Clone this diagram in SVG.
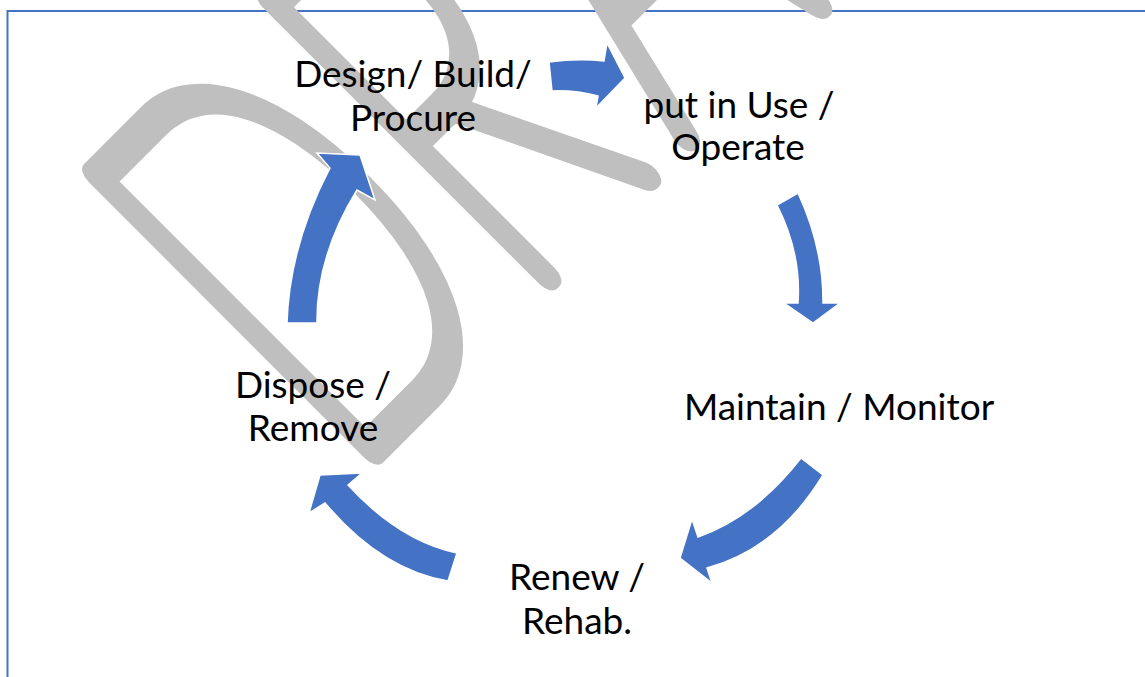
<svg xmlns="http://www.w3.org/2000/svg" width="1145" height="677" viewBox="0 0 1145 677">
  <style>
    .lbl { font-family: Lato, "Liberation Sans", sans-serif; font-size: 37px; fill: #000; text-anchor: middle; }
    .arrow { fill: #4472C4; stroke: #fff; stroke-width: 1.5; stroke-linejoin: miter; }
    .mark { font-family: Lato, "Liberation Sans", sans-serif; font-weight: 100; font-size: 558px; letter-spacing: 5px; fill: #BFBFBF; stroke: #BFBFBF; stroke-width: 32; stroke-linejoin: round; }
  </style>
  <rect width="1145" height="677" fill="#fff"/>

  <!-- page frame -->
  <rect x="7.5" y="11" width="1200" height="700" fill="none" stroke="#4472C4" stroke-width="2"/>

  <!-- watermark -->
  <g id="watermark">
    <text class="mark" transform="translate(345,478) rotate(-45) scale(0.575,1)">DR<tspan dx="60">AFT</tspan></text>
  </g>

  <!-- cycle arrows -->
  <g id="connectors">
    <path class="arrow" d="M549,62 Q578,58 604,61 L607,43 L625,78 L596,108 L598,96 Q575,90 552,91 Z"/>
    <path class="arrow" d="M798,193 Q823.5,248 823,303 L840,303 L813,323 L784,303 L798,303 Q801.5,253.5 777,205 Z"/>
    <path class="arrow" d="M823,475 Q779,548 707,568 L712,583 L680,558 L692,519 L698,537 Q754.5,517.5 801,458 Z"/>
    <path class="arrow" d="M457,553 Q399.5,541 348,485 L362,473 L320,475 L309,513 L325,503 Q381.5,570 448,581 Z"/>
    <path class="arrow" d="M287,323 Q289.5,245.5 330,168 L317,153 L360,155 L375,200 L357,190 Q316.2,256.5 317,323 Z"/>
  </g>

  <!-- cycle stages -->
  <g id="node-design">
    <text class="lbl" x="413" y="87">Design/ Build/</text>
    <text class="lbl" x="413" y="131">Procure</text>
  </g>
  <g id="node-use">
    <text class="lbl" x="739" y="118">put in Use /</text>
    <text class="lbl" x="738" y="160">Operate</text>
  </g>
  <g id="node-maintain">
    <text class="lbl" x="839" y="420">Maintain / Monitor</text>
  </g>
  <g id="node-renew">
    <text class="lbl" x="577" y="590">Renew /</text>
    <text class="lbl" x="577" y="634">Rehab.</text>
  </g>
  <g id="node-dispose">
    <text class="lbl" x="313" y="398">Dispose /</text>
    <text class="lbl" x="313" y="441">Remove</text>
  </g>
</svg>
